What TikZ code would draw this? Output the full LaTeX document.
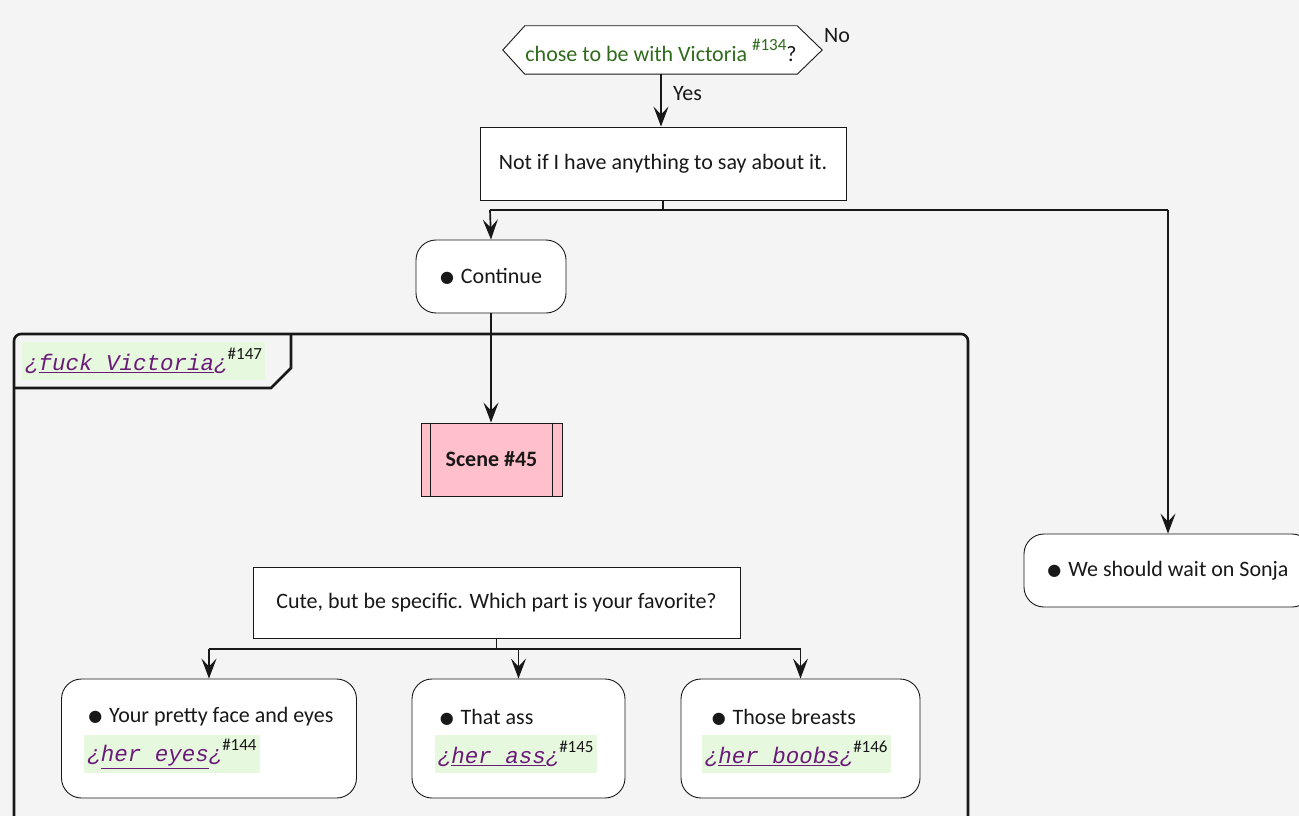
\documentclass[tikz,border=0pt]{standalone}
\usepackage{fontspec}
\setmainfont{Carlito}
\setmonofont{Liberation Mono}
\newfontfamily\dejavu{DejaVu Sans}
\usetikzlibrary{arrows.meta,calc}
\definecolor{bg}{HTML}{F4F4F4}
\definecolor{ink}{HTML}{181818}
\definecolor{dgreen}{HTML}{2E6B1C}
\definecolor{lgreen}{HTML}{E6F8DE}
\definecolor{purp}{HTML}{6B1A7A}
\definecolor{pinkbox}{HTML}{FFC0CB}
\newcommand\supnum[1]{{\fontsize{17}{17}\selectfont\raisebox{11pt}{\#{}#1}}}
\newcommand\lnk[2]{{\color{purp}\fontsize{22.5}{24}\selectfont\ttfamily\itshape ¿\underline{#1}¿}{\color{ink}\supnum{#2}}}
\newcommand\bul{{\fontsize{16}{16}\selectfont\dejavu\raisebox{1pt}{●}}\hspace{7pt}}
\tikzset{
  txt/.style={font=\fontsize{22}{25}\selectfont, text=ink},
  box/.style={draw=ink, line width=0.9pt, fill=white, inner sep=0pt},
  actbox/.style={box, rounded corners=20pt},
  arr/.style={draw=ink, line width=1.7pt, -{Stealth[length=20pt,width=15pt,inset=8pt]}},
  plainline/.style={draw=ink, line width=1.7pt},
  splitbar/.style={draw=ink, line width=2.4pt},
  frame/.style={draw=ink, line width=2.6pt},
  greenbg/.style={fill=lgreen, inner xsep=3pt, inner ysep=0pt, minimum height=38pt, anchor=west}
}
\begin{document}
\begin{tikzpicture}[x=1pt,y=-1pt]
\useasboundingbox (0,0) rectangle (1299,816);
\fill[bg] (0,0) rectangle (1299,816);
\begin{scope}
\clip (0,0) rectangle (1299,816);
% group frame
\draw[frame, rounded corners=7pt] (14,900) -- (14,334) -- (968,334) -- (968,900);
\draw[frame] (14,388) -- (271,388) -- (291,368) -- (291,334);
\node[greenbg] (glabel) at (22,361) {\lnk{fuck Victoria}{147}};

% decision
\node[inner sep=0pt, minimum width=272pt, minimum height=48pt] (q) at (661,50) {};
\draw[draw=ink, line width=0.9pt, fill=white]
  (q.north west) -- (q.north east) -- ($(q.east)+(25,0)$) -- (q.south east)
  -- (q.south west) -- ($(q.west)+(-22,0)$) -- cycle;
\node[txt, inner sep=0pt, anchor=base] (qt) at (661,62)
  {\color{dgreen}chose to be with Victoria \supnum{134}\color{ink}?};
\node[txt, anchor=base west, inner sep=0pt] (nolab) at (824,43) {No};

% first action
\node[box, txt, minimum width=366pt, minimum height=73pt] (n1) at (663,163.5) {Not if I have anything to say about it.};
\draw[arr] (q.south) -- (q.south |- n1.north);
\node[txt, anchor=base west, inner sep=0pt] (yeslab) at (673,100) {Yes};

% split 1
\coordinate (s1l) at (490,210);
\coordinate (s1r) at (1168,210);
\coordinate (s1m) at (n1.south |- s1l);
\draw[plainline] (n1.south) -- (s1m);
\draw[splitbar] (s1l) -- (s1r);

\node[actbox, txt, minimum width=150pt, minimum height=73pt] (cont) at (491,276.5) {\bul Continue};
\node[actbox, txt, minimum width=288pt, minimum height=73pt] (sonja) at (1168,570.5) {\bul We should wait on Sonja};
\draw[arr] (s1l) -- (cont.north);
\draw[arr] (s1r) -- (sonja.north);

% scene
\node[box, fill=pinkbox, txt, font=\fontsize{22}{25}\selectfont\bfseries, minimum width=141pt, minimum height=73pt] (scene) at (491.5,459.5) {Scene \#45};
\draw[draw=ink, line width=0.9pt] ($(scene.north west)+(10,0)$) -- ($(scene.south west)+(10,0)$);
\draw[draw=ink, line width=0.9pt] ($(scene.north east)+(-10,0)$) -- ($(scene.south east)+(-10,0)$);
\draw[arr] (cont.south) -- (cont.south |- scene.north);

% question
\node[box, txt, minimum width=487pt, minimum height=71pt] (cute) at (496.5,603) {Cute, but be specific. Which part is your favorite?};
\coordinate (s2l) at (209,649);
\coordinate (s2m) at (518.5,649);
\coordinate (s2r) at (800.5,649);
\coordinate (s2c) at (cute.south |- s2l);
\draw[plainline] (cute.south) -- (s2c);
\draw[splitbar] (s2l) -- (s2r);

\node[actbox, minimum width=295pt, minimum height=119pt] (b1) at (209,738.5) {};
\node[actbox, minimum width=213pt, minimum height=119pt] (b2) at (518.5,738.5) {};
\node[actbox, minimum width=239pt, minimum height=119pt] (b3) at (800.5,738.5) {};
\draw[arr] (s2l) -- (b1.north);
\draw[arr] (s2m) -- (b2.north);
\draw[arr] (s2r) -- (b3.north);

\node[txt, anchor=west, inner sep=0pt] (t1) at ($(b1.west)+(27,-21.5)$) {\bul Your pretty face and eyes};
\node[greenbg] (g1) at ($(b1.west)+(23,15.5)$) {\lnk{her eyes}{144}};
\node[txt, anchor=west, inner sep=0pt] (t2) at ($(b2.west)+(28,-21.5)$) {\bul That ass};
\node[greenbg] (g2) at ($(b2.west)+(23,15.5)$) {\lnk{her ass}{145}};
\node[txt, anchor=west, inner sep=0pt] (t3) at ($(b3.west)+(31,-21.5)$) {\bul Those breasts};
\node[greenbg] (g3) at ($(b3.west)+(21,15.5)$) {\lnk{her boobs}{146}};
\end{scope}
\end{tikzpicture}
\end{document}
